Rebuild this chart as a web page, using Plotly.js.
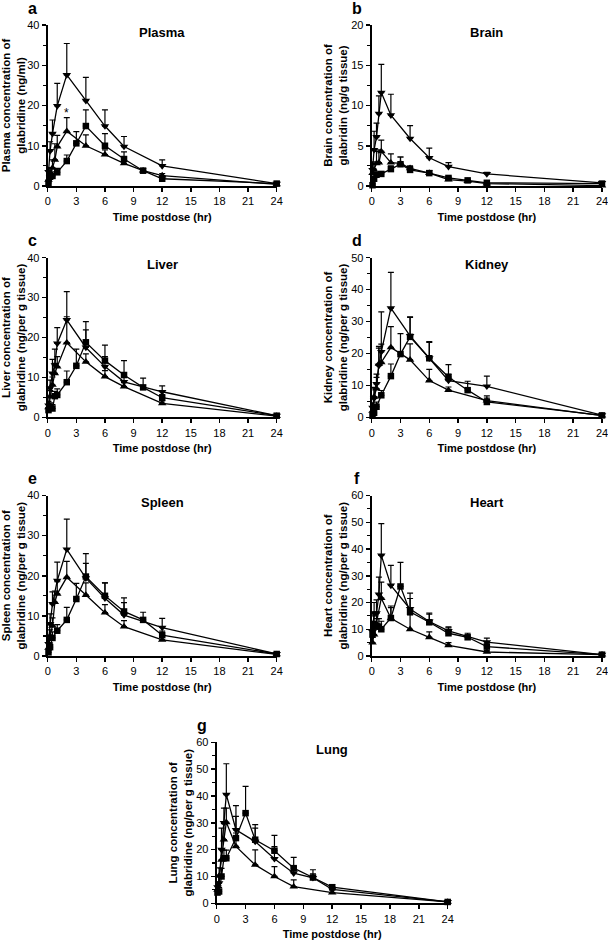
<!DOCTYPE html>
<html><head><meta charset="utf-8">
<script src="https://cdn.plot.ly/plotly-3.0.1.min.js"></script>
<style>html,body{margin:0;padding:0;background:#fff}#chart{width:608px;height:940px}</style>
</head><body><div id="chart"></div>
<script>
// Sampling times (hr); null = no observation for that group at that time
const timeHr = [0.083, 0.25, 0.5, 0.75, 1, 2, 3, 4, 6, 8, 10, 12, 24];
const xTicks = [0, 3, 6, 9, 12, 15, 18, 21, 24];
const panelLetters = ['a', 'b', 'c', 'd', 'e', 'f', 'g'];
const tissueNames = ['Plasma', 'Brain', 'Liver', 'Kidney', 'Spleen', 'Heart', 'Lung'];
const yTitles = [
  'Plasma concentration of<br>glabridine (ng/ml)',
  'Brain concentration of<br>glabridin (ng/g tissue)',
  'Liver concentration of<br>glabridine (ng/per g tissue)',
  'Kidney concentration of<br>glabridine (ng/per g tissue)',
  'Spleen concentration of<br>glabridine (ng/per g tissue)',
  'Heart concentration of<br>glabridine (ng/per g tissue)',
  'Lung concentration of<br>glabridine (ng/per g tissue)'
];
const yMax = [40, 20, 40, 50, 40, 60, 60];
const yStep = [10, 5, 10, 10, 10, 10, 10];

// Plasma
const plasmaSq    = [0.8, 2.3, 2.5, null, 3.4, 6.2, 10.6, 14.9, 10, 6.7, 3.8, 1.8, 0.6];
const plasmaSqErr = [0.5, 1, 1, null, 1, 1.5, 2.9, 4, 3, 1.8, 0.6, 0.6, 0.2];
const plasmaUp    = [1.5, 3, 4.5, 6.5, 9.8, 13.6, null, 10, 7.8, 5.6, 3.8, 2.6, 0.4];
const plasmaUpErr = [1, 1.5, 2, 4, 2.8, 3.4, null, 2.7, 1.2, 0.8, 0.5, 0.5, 0.2];
const plasmaDn    = [3.5, 8.7, 13, null, 19.9, 27.6, null, 21.2, 14.9, 9.8, null, 5, 0.6];
const plasmaDnErr = [1, 2.3, 3.4, null, 5.6, 7.8, null, 5.8, 4, 2.5, null, 1.5, 0.3];
// Brain
const brainSq    = [0.1, 0.9, 1.4, null, 1.5, 2.1, 2.7, 2.0, 1.6, 1.0, 0.7, 0.4, 0.3];
const brainSqErr = [0.2, 0.3, 0.3, null, 0.3, 0.4, 0.9, 0.4, 0.3, 0.2, 0.1, 0.1, 0.1];
const brainUp    = [1.6, 2.0, 2.8, 2.9, 4.3, 2.9, 2.8, 2.2, 1.6, 0.8, 0.6, 0.3, 0.05];
const brainUpErr = [0.5, 0.8, 1.5, 1.6, 1.4, 1.1, 0.8, 0.3, 0.3, 0.2, 0.1, 0.1, 0.05];
const brainDn    = [2.0, 4.5, 6.1, 9.0, 11.6, 8.8, null, 5.9, 3.5, 2.4, null, 1.5, 0.4];
const brainDnErr = [1, 2.3, 1.7, 2.2, 3.5, 2.6, null, 1.6, 1.2, 0.5, null, 0.2, 0.1];
// Liver
const liverSq    = [1.8, 2.6, 2.2, 5.3, 5.6, 8.8, 12.9, 18.8, 14.2, 10.6, 7.5, 4.9, 0.4];
const liverSqErr = [0.5, 1, 1, 1.2, 1.5, 2.8, 4.2, 5.2, 3.9, 3.6, 2.3, 0.8, 0.2];
const liverUp    = [2.5, 5.2, 8.1, 11, 12.7, 18.7, null, 13.9, 10.2, 7.7, null, 3.5, 0.3];
const liverUpErr = [1, 1.5, 2, 2.5, 2.5, 6.5, null, 2, 1.5, 1, null, 0.6, 0.2];
const liverDn    = [3, 7.3, 11, 13.1, 18.5, 24.4, null, 17.5, 12.7, 8.9, null, 6.4, 0.4];
const liverDnErr = [1, 2, 3.5, 4, 4, 7.1, null, 4.4, 2.5, 1.5, null, 1.5, 0.2];
// Kidney
const kidneySq    = [0.5, 1.4, 3.3, null, 6.9, 12.9, 19.8, 25.2, 18.5, 12.6, 8.5, 4.8, 0.6];
const kidneySqErr = [0.5, 1, 1.5, null, 1.5, 3.8, 6.4, 6.1, 5.2, 3.9, 2.8, 1.2, 0.3];
const kidneyUp    = [2, 6.4, 9, 16.7, 17.2, 21.9, null, 18, 11.5, 8.5, null, 5.2, 0.5];
const kidneyUpErr = [1.5, 3, 3.5, 5, 5.7, 6.5, null, 5, 3.5, 1, null, 1.5, 0.2];
const kidneyDn    = [3, 5.9, 10.5, 16.2, 20.5, 34.2, null, 25.5, 18.5, 11.5, null, 9.7, 0.7];
const kidneyDnErr = [1.5, 3, 3, 6, 12.5, 11.2, null, 6, 5, 2, null, 3.2, 0.3];
// Spleen
const spleenSq    = [0.9, 2.2, 4.5, null, 6.3, 9, 14.2, 19.8, 15, 11.1, 9, 5.2, 0.5];
const spleenSqErr = [0.5, 1, 1.5, null, 1.5, 3.1, 3.9, 5.7, 3.2, 3.4, 1.9, 1, 0.2];
const spleenUp    = [2, 5, 7.5, 13.4, 15.5, 19.6, null, 15.2, 10.8, 7.3, null, 4, 0.4];
const spleenUpErr = [1, 1.5, 2, 2.8, 3, 4, null, 3, 2, 1.5, null, 0.8, 0.2];
const spleenDn    = [3, 8, 13, null, 18.8, 26.6, null, 19.4, 14.4, 10.2, null, 7.1, 0.5];
const spleenDnErr = [1.5, 2.5, 3, null, 4.6, 7.5, null, 3.7, 3.8, 3.1, null, 2.3, 0.3];
// Heart
const heartSq    = [8, 12, 11, 11, 10, 14.2, 26, 16.5, 12.6, 8.5, 7, 3.5, 0.5];
const heartSqErr = [2, 3, 3, 3, 3, 4.5, 9, 5, 3, 2, 1.5, 1, 0.3];
const heartUp    = [5, 8, 12, null, 21.6, 14.1, null, 10, 7, 4, null, 1.5, 0.5];
const heartUpErr = [2, 3, 4, null, 6, 4, null, 5.4, 2, 1, null, 0.5, 0.2];
const heartDn    = [9, 16, 16, 23, 37.6, 26.4, null, 17.6, 12.9, 9.4, null, 5.2, 0.5];
const heartDnErr = [3, 4, 5, 6.5, 11.9, 7.5, null, 5.9, 3.1, 1.5, null, 1.5, 0.3];
// Lung
const lungSq    = [4, 4.4, 10, 16.8, 16.8, 24.3, 33.6, 23.7, 19.6, 13.1, 9.6, 6, 0.5];
const lungSqErr = [1, 1.5, 3, 3, 3, 8.1, 10, 4.3, 5.7, 4, 2.9, 1, 0.3];
const lungUp    = [5, 10.2, 16.2, 23.7, 30.2, 21.2, null, 14.3, 10, 6.2, null, 4, 0.5];
const lungUpErr = [2, 3, 4, 6, 5.3, 5, null, 5.6, 3.7, 2.5, null, 1, 0.2];
const lungDn    = [6, 7.5, 20, 30, 40.5, 27.4, null, 23, 16.6, 11.2, 9.5, 5.2, 0.5];
const lungDnErr = [2, 3, 8, 5.5, 11.5, 9, null, 6.3, 4.5, 2.5, 1.5, 1, 0.3];

const panelData = [
  [plasmaSq, plasmaSqErr, plasmaUp, plasmaUpErr, plasmaDn, plasmaDnErr],
  [brainSq, brainSqErr, brainUp, brainUpErr, brainDn, brainDnErr],
  [liverSq, liverSqErr, liverUp, liverUpErr, liverDn, liverDnErr],
  [kidneySq, kidneySqErr, kidneyUp, kidneyUpErr, kidneyDn, kidneyDnErr],
  [spleenSq, spleenSqErr, spleenUp, spleenUpErr, spleenDn, spleenDnErr],
  [heartSq, heartSqErr, heartUp, heartUpErr, heartDn, heartDnErr],
  [lungSq, lungSqErr, lungUp, lungUpErr, lungDn, lungDnErr]
];

const W = 608, H = 940;
// plot boxes in pixels [left, right, top, bottom]
const boxes = [
  [47.7, 276.7, 25, 186], [371.7, 602, 25, 186],
  [47.7, 276.7, 257.7, 417.3], [371.7, 602, 257.7, 417.3],
  [47.7, 276.7, 495.5, 656], [371.7, 602, 495.5, 656],
  [216.7, 447.7, 742.3, 903.3]
];
const FONT = 'Liberation Sans, Arial, Helvetica, sans-serif';
const symbols = ['square', 'triangle-up', 'triangle-down'];
const sizes = [6.5, 7.5, 7.5];

const traces = [];
const layout = {
  width: W, height: H, margin: {l: 0, r: 0, t: 0, b: 0},
  paper_bgcolor: '#fff', plot_bgcolor: 'rgba(0,0,0,0)',
  showlegend: false, font: {family: FONT, color: '#000', size: 11},
  annotations: []
};

boxes.forEach((b, i) => {
  const n = i + 1, sfx = n === 1 ? '' : String(n);
  const d = panelData[i];
  for (let s = 0; s < 3; s++) {
    const vals = d[2 * s], errs = d[2 * s + 1];
    traces.push({
      type: 'scatter', mode: 'lines+markers', x: timeHr, y: vals,
      xaxis: 'x' + sfx, yaxis: 'y' + sfx, connectgaps: true, cliponaxis: false,
      line: {color: '#000', width: 1.3},
      marker: {symbol: symbols[s], size: sizes[s], color: '#000'},
      error_y: {type: 'data', symmetric: false, array: errs,
        arrayminus: errs.map(e => e === null ? null : 0),
        color: '#000', thickness: 1.2, width: 3},
      hoverinfo: 'x+y'
    });
  }
  const common = {showline: true, linewidth: 2, linecolor: '#000', showgrid: false, zeroline: false,
    ticks: 'outside', ticklen: 4, tickwidth: 1.5, tickcolor: '#000', ticklabeloverflow: 'allow',
    tickfont: {family: FONT, size: 11, color: '#000'}, automargin: false, fixedrange: true};
  layout['xaxis' + sfx] = Object.assign({}, common, {
    domain: [b[0] / W, b[1] / W], anchor: 'y' + sfx, range: [0, 24],
    tickmode: 'array', tickvals: xTicks, ticktext: xTicks.map(String),
    title: {text: '<b>Time postdose (hr)</b>', font: {family: FONT, size: 11}, standoff: 7}
  });
  layout['yaxis' + sfx] = Object.assign({}, common, {
    domain: [1 - b[3] / H, 1 - b[2] / H], anchor: 'x' + sfx, range: [0, yMax[i]],
    tickmode: 'linear', tick0: 0, dtick: yStep[i],
    minor: {dtick: yStep[i] / 2, ticks: 'outside', ticklen: 2.5, tickwidth: 1.2, tickcolor: '#000'},
    title: {text: '<b>' + yTitles[i] + '</b>', font: {family: FONT, size: 11.5}, standoff: 1}
  });
  layout.annotations.push({
    xref: 'paper', yref: 'paper', x: (b[0] + b[1]) / 2 / W, y: 1 - (b[2] + 7) / H,
    text: '<b>' + tissueNames[i] + '</b>', showarrow: false, xanchor: 'center', yanchor: 'middle',
    font: {family: FONT, size: 13, color: '#000'}
  });
  layout.annotations.push({
    xref: 'paper', yref: 'paper', x: (b[0] - 15) / W, y: 1 - (b[2] - 17) / H,
    text: '<b>' + panelLetters[i] + '</b>', showarrow: false, xanchor: 'center', yanchor: 'middle',
    font: {family: FONT, size: 16, color: '#000'}
  });
});
// significance marker on plasma panel
layout.annotations.push({xref: 'x', yref: 'y', x: 2, y: 18.2, text: '*', showarrow: false,
  font: {family: FONT, size: 12, color: '#000'}, yanchor: 'middle'});

Plotly.newPlot('chart', traces, layout, {staticPlot: true});
</script></body></html>
